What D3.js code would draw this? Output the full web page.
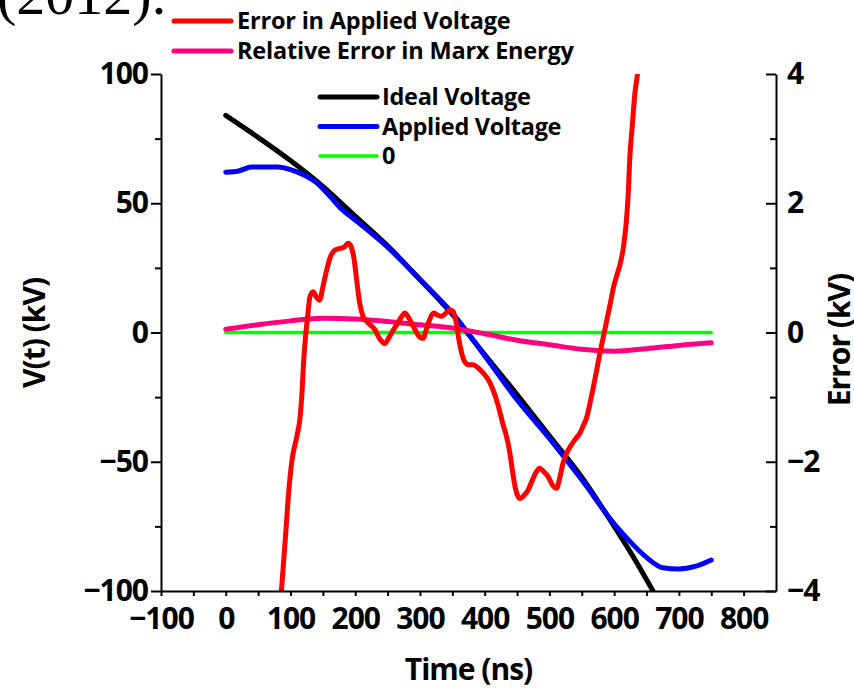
<!DOCTYPE html>
<html>
<head>
<meta charset="utf-8">
<script src="https://cdn.jsdelivr.net/npm/d3@7"></script>
<style>
  html, body { margin: 0; padding: 0; background: #fff; }
  svg { display: block; }
  text { font-family: "Open Sans", "DejaVu Sans", sans-serif; }
</style>
</head>
<body>
<script>
// ---------- data ----------
const idealT = [0, 50, 100, 150, 200, 250, 300, 350, 400, 450, 500, 550, 600, 630, 660];
const idealV = [84, 75.5, 66.5, 56.5, 45, 33.5, 20.5, 7, -8.5, -24, -40, -56, -75, -87, -100];

const appliedT = [0, 20, 40, 60, 80, 100, 120, 140, 160, 180, 200, 250, 300, 350, 400, 450, 500, 550, 600, 625, 650, 675, 700, 725, 750];
const appliedV = [62, 62.5, 64, 64, 64, 63, 61, 58, 53, 47.5, 43.5, 33, 20.5, 7.5, -9, -26, -41, -57, -74, -81, -87, -91, -91.5, -90.5, -88];

const zeroT = [0, 750];
const zeroV = [0, 0];

const marxT = [0, 50, 100, 150, 200, 250, 300, 350, 400, 450, 500, 550, 600, 650, 700, 750];
const marxE = [0.05, 0.12, 0.18, 0.22, 0.21, 0.17, 0.12, 0.07, -0.02, -0.12, -0.19, -0.26, -0.29, -0.25, -0.2, -0.16];

const errT = [84, 86, 92, 97, 102, 110, 115, 118, 120, 123, 127, 130, 135, 140, 145, 150, 156, 162, 168, 176, 183, 189, 194, 198, 203, 207, 212, 218, 223, 230, 238, 246, 252, 259, 266, 272, 277, 283, 290, 297, 305, 310, 315, 321, 327, 334, 340, 346, 351, 356, 360, 364, 369, 375, 382, 390, 398, 405, 413, 420, 428, 434, 439, 443, 447, 450, 455, 461, 467, 473, 479, 485, 491, 498, 504, 511, 516, 521, 526, 532, 540, 547, 552, 558, 563, 568, 573, 578, 583, 588, 594, 599, 604, 609, 614, 619, 622, 624, 628, 632, 636, 640];
const errE = [-4.3, -4.0, -3.2, -2.5, -2.0, -1.6, -1.3, -0.9, -0.5, -0.1, 0.3, 0.55, 0.63, 0.55, 0.5, 0.7, 0.97, 1.18, 1.27, 1.30, 1.32, 1.38, 1.32, 1.15, 0.75, 0.45, 0.25, 0.17, 0.12, 0.05, -0.1, -0.17, -0.08, 0.04, 0.15, 0.25, 0.3, 0.22, 0.09, -0.04, -0.09, 0.05, 0.2, 0.3, 0.27, 0.25, 0.3, 0.35, 0.33, 0.15, -0.1, -0.3, -0.45, -0.5, -0.5, -0.55, -0.63, -0.72, -0.89, -1.1, -1.41, -1.62, -1.87, -2.15, -2.39, -2.5, -2.57, -2.52, -2.44, -2.3, -2.17, -2.10, -2.15, -2.23, -2.35, -2.41, -2.25, -2.02, -1.88, -1.77, -1.65, -1.56, -1.45, -1.30, -1.08, -0.84, -0.58, -0.32, -0.08, 0.16, 0.45, 0.7, 0.88, 1.05, 1.3, 1.74, 2.2, 2.67, 3.2, 3.70, 4.0, 4.5];

const xTicks = [-100, 0, 100, 200, 300, 400, 500, 600, 700, 800];
const xMinorTicks = [-50, 50, 150, 250, 350, 450, 550, 650, 750];
const yLeftTicks = [-100, -50, 0, 50, 100];
const yLeftMinor = [-75, -25, 25, 75];
const yRightTicks = [-4, -2, 0, 2, 4];
const yRightMinor = [-3, -1, 1, 3];

const topLegend = ["Error in Applied Voltage", "Relative Error in Marx Energy"];
const innerLegend = ["Ideal Voltage", "Applied Voltage", "0"];

// ---------- layout ----------
const W = 854, H = 689;
const X0 = 161, X1 = 776, Y0 = 74, Y1 = 591;

const svg = d3.select("body").append("svg").attr("width", W).attr("height", H);

const x = d3.scaleLinear().domain([-100, 850]).range([X0, X1]);
const yL = d3.scaleLinear().domain([-100, 100]).range([Y1, Y0]);
const yR = d3.scaleLinear().domain([-4, 4]).range([Y1, Y0]);

// clipped-off title fragment at top
svg.append("text").attr("x", -3).attr("y", 14)
  .style("font-family", "'Liberation Serif', 'DejaVu Serif', serif")
  .style("font-size", "58px").attr("fill", "#000").text("(2012).");

// clip
svg.append("defs").append("clipPath").attr("id", "plot")
  .append("rect").attr("x", X0).attr("y", Y0).attr("width", X1 - X0).attr("height", Y1 - Y0);

const g = svg.append("g").attr("clip-path", "url(#plot)");

function drawLine(ts, vs, yScale, color, width, curve) {
  const pts = ts.map((t, i) => [t, vs[i]]);
  g.append("path").datum(pts)
    .attr("fill", "none").attr("stroke", color).attr("stroke-width", width)
    .attr("stroke-linecap", "round").attr("stroke-linejoin", "round")
    .attr("d", d3.line().x(d => x(d[0])).y(d => yScale(d[1])).curve(curve || d3.curveMonotoneX));
}

drawLine(zeroT, zeroV, yL, "#00ff00", 3.5, d3.curveLinear);
drawLine(idealT, idealV, yL, "#000000", 5);
drawLine(appliedT, appliedV, yL, "#0000ff", 5);
drawLine(marxT, marxE, yR, "#ff0080", 5);
drawLine(errT, errE, yR, "#ff0000", 5);

// ---------- axes ----------
function styleAxis(sel) {
  sel.select(".domain").attr("stroke", "#000").attr("stroke-width", 2);
  sel.selectAll(".tick line").attr("stroke", "#000").attr("stroke-width", 2);
  sel.selectAll(".tick text").attr("fill", "#000")
    .style("font-size", "30px").style("font-weight", "700").style("letter-spacing", "-1px");
}

const bx = svg.append("g").attr("transform", `translate(0,${Y1})`)
  .call(d3.axisBottom(x).tickValues(xTicks).tickSize(5).tickPadding(12).tickSizeOuter(0));
styleAxis(bx);
const bxm = svg.append("g").attr("transform", `translate(0,${Y1})`)
  .call(d3.axisBottom(x).tickValues(xMinorTicks).tickSize(5).tickFormat("").tickSizeOuter(0));
styleAxis(bxm);
bxm.select(".domain").remove();

const ly = svg.append("g").attr("transform", `translate(${X0},0)`)
  .call(d3.axisLeft(yL).tickValues(yLeftTicks).tickSize(10).tickPadding(3).tickSizeOuter(0));
styleAxis(ly);
const lym = svg.append("g").attr("transform", `translate(${X0},0)`)
  .call(d3.axisLeft(yL).tickValues(yLeftMinor).tickSize(6).tickFormat("").tickSizeOuter(0));
styleAxis(lym);
lym.select(".domain").remove();

const ry = svg.append("g").attr("transform", `translate(${X1},0)`)
  .call(d3.axisRight(yR).tickValues(yRightTicks).tickSize(-10).tickPadding(11).tickSizeOuter(0));
styleAxis(ry);
const rym = svg.append("g").attr("transform", `translate(${X1},0)`)
  .call(d3.axisRight(yR).tickValues(yRightMinor).tickSize(-6).tickFormat("").tickSizeOuter(0));
styleAxis(rym);
rym.select(".domain").remove();

// axis titles
function title(txt, xx, yy, rot) {
  svg.append("text").attr("transform", `translate(${xx},${yy}) rotate(${rot})`)
    .attr("text-anchor", "middle").attr("fill", "#000")
    .style("font-size", "30px").style("font-weight", "700").style("letter-spacing", "-1px")
    .text(txt);
}
title("Time (ns)", (X0 + X1) / 2, 680, 0);
title("V(t) (kV)", 45, 333, -90);
title("Error (kV)", 850, 340, -90);

// ---------- legends ----------
function legend(items, colors, widths, lx, ly0, step, fs, ls, lineX0, lineX1) {
  items.forEach((txt, i) => {
    const yy = ly0 + i * step;
    svg.append("line").attr("x1", lineX0).attr("x2", lineX1).attr("y1", yy).attr("y2", yy)
      .attr("stroke", colors[i]).attr("stroke-width", widths[i]).attr("stroke-linecap", "round");
    svg.append("text").attr("x", lx).attr("y", yy).attr("dy", "0.36em").attr("fill", "#000")
      .style("font-size", fs + "px").style("font-weight", "700").style("letter-spacing", ls + "px")
      .text(txt);
  });
}
legend(topLegend, ["#ff0000", "#ff0080"], [5, 5], 237, 21, 30, 23.5, -0.2, 174, 231);
legend(innerLegend, ["#000000", "#0000ff", "#00ff00"], [5, 5, 3.5], 382, 97, 29.5, 23.5, -0.3, 320, 377);
</script>
</body>
</html>
